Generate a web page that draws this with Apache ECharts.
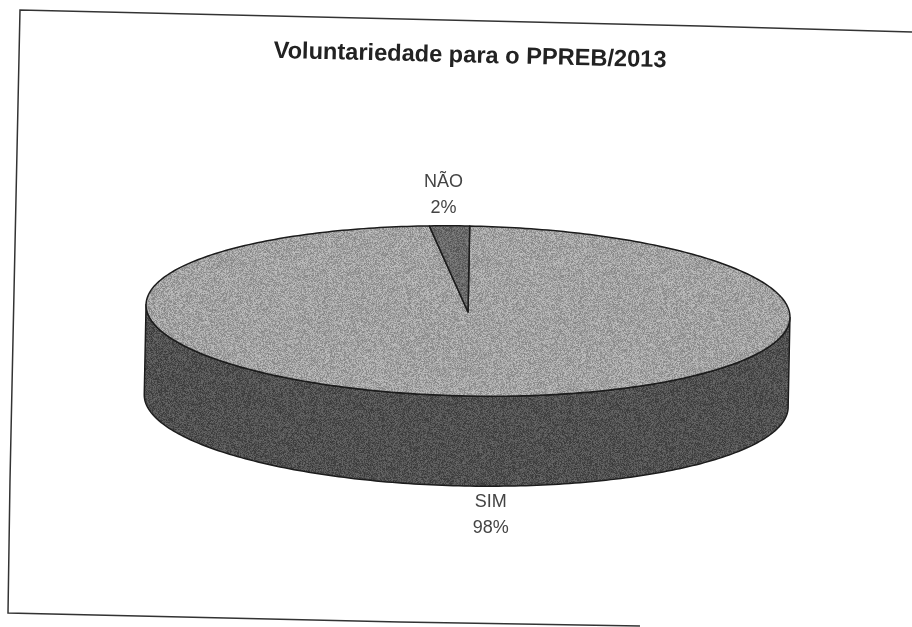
<!DOCTYPE html>
<html>
<head>
<meta charset="utf-8">
<style>
    html, body { margin: 0; padding: 0; background: #fff; }
    #chart { width: 912px; height: 627px; }
</style>
<script src="https://cdn.jsdelivr.net/npm/echarts@6/dist/echarts.min.js"></script>
</head>
<body>
<div id="chart"></div>
<script>
    var categories = ['SIM', 'NÃO'];
    var shares = [98, 2];
    var chartTitle = 'Voluntariedade para o PPREB/2013';

    var cx = 468, cy = 311, rx = 322, ry = 85, depth = 90;
    var tilt = 0.02;
    var total = shares.reduce(function (a, b) { return a + b; }, 0);

    // speckled texture so the flat fills look like the scanned page
    function noiseFill(base, spread) {
        var size = 256;
        var canvas = document.createElement('canvas');
        canvas.width = canvas.height = size;
        var ctx = canvas.getContext('2d');
        var img = ctx.createImageData(size, size);
        var seed = 2463534242;
        for (var i = 0; i < size * size; i++) {
            seed ^= seed << 13;
            seed ^= seed >>> 17;
            seed ^= seed << 5;
            var v = base + ((seed >>> 8) % (spread * 2 + 1)) - spread;
            img.data[i * 4] = img.data[i * 4 + 1] = img.data[i * 4 + 2] = v;
            img.data[i * 4 + 3] = 255;
        }
        ctx.putImageData(img, 0, 0);
        return { image: canvas, repeat: 'repeat' };
    }

    var topFills = [noiseFill(162, 30), noiseFill(106, 24)];
    var sideFill = noiseFill(80, 24);

    // point on the rim, angle in degrees clockwise from 12 o'clock
    function rim(deg, drop) {
        var a = deg * Math.PI / 180;
        var x = rx * Math.sin(a);
        var y = -ry * Math.cos(a) + (drop || 0);
        return [cx + x * Math.cos(tilt) - y * Math.sin(tilt), cy + x * Math.sin(tilt) + y * Math.cos(tilt)];
    }

    function arc(from, to, drop) {
        var pts = [];
        var steps = Math.max(2, Math.ceil(Math.abs(to - from)));
        for (var i = 0; i <= steps; i++) {
            pts.push(rim(from + (to - from) * i / steps, drop));
        }
        return pts;
    }

    function renderSlice(params, api) {
        var idx = params.dataIndex;
        var before = 0;
        for (var i = 0; i < idx; i++) before += shares[i];
        var start = before / total * 360;
        var end = (before + api.value(0)) / total * 360;
        var mid = (start + end) / 2;
        var children = [];

        // only the front half of the rim shows a wall
        var wallFrom = Math.max(start, 90), wallTo = Math.min(end, 270);
        if (wallTo > wallFrom) {
            var wall = arc(wallFrom, wallTo, 0).concat(arc(wallTo, wallFrom, depth));
            children.push({
                type: 'polygon',
                shape: { points: wall },
                style: { fill: sideFill, stroke: '#1c1c1c', lineWidth: 1.5, lineJoin: 'round' }
            });
        }
        children.push({
            type: 'polygon',
            shape: { points: [[cx, cy + 1]].concat(arc(start, end, 0)) },
            style: { fill: topFills[idx], stroke: '#1c1c1c', lineWidth: 1.5, lineJoin: 'round' }
        });

        var front = Math.cos(mid * Math.PI / 180) < 0;
        var anchor = rim(mid, front ? depth : 0);
        children.push({
            type: 'text',
            style: {
                x: anchor[0] + (front ? 6 : -6),
                y: anchor[1] + (front ? 29 : -31),
                text: categories[idx] + '\n' + api.value(0) + '%',
                font: '18px "Liberation Sans", Arial, sans-serif',
                lineHeight: 26,
                fill: '#444',
                align: 'center',
                verticalAlign: 'middle'
            },
            z2: 10
        });
        return { type: 'group', children: children };
    }

    var chart = echarts.init(document.getElementById('chart'), null, { renderer: 'canvas' });
    chart.setOption({
        backgroundColor: '#fff',
        animation: false,
        graphic: [
            {
                type: 'polyline',
                shape: { points: [[912, 32], [700, 26], [20, 10], [10, 480], [8, 613], [400, 622], [640, 626]] },
                style: { fill: null, stroke: '#333', lineWidth: 1.5 }
            },
            {
                type: 'text',
                x: 470,
                y: 56,
                originX: 0,
                originY: 0,
                rotation: -0.024,
                style: {
                    text: chartTitle,
                    font: 'bold 23.6px "Liberation Sans", Arial, sans-serif',
                    fill: '#222',
                    align: 'center',
                    verticalAlign: 'middle'
                }
            }
        ],
        series: [{
            type: 'custom',
            coordinateSystem: 'none',
            renderItem: renderSlice,
            data: shares.map(function (v, i) { return { name: categories[i], value: [v] }; })
        }]
    });
</script>
</body>
</html>
